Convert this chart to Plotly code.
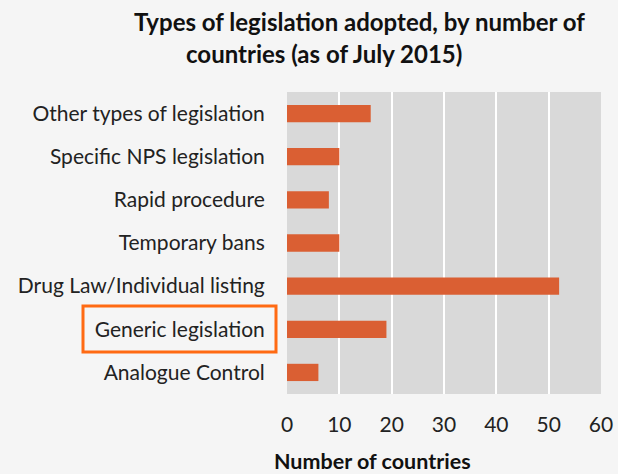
import plotly.graph_objects as go

categories = ["Analogue Control", "Generic legislation", "Drug Law/Individual listing",
              "Temporary bans", "Rapid procedure", "Specific NPS legislation",
              "Other types of legislation"]
values = [6, 19, 52, 10, 8, 10, 16]
x_ticks = [0, 10, 20, 30, 40, 50, 60]

title_line1 = "Types of legislation adopted, by number of"
title_line2 = "countries (as of July 2015)"
x_title = "Number of countries"

FONT = "Lato"
fig = go.Figure(go.Bar(
    x=values, y=categories, orientation="h",
    marker=dict(color="#DA5F33", line=dict(width=0)),
))

fig.update_layout(
    width=618, height=474, autosize=False,
    margin=dict(l=287, r=17, t=92, b=80),
    paper_bgcolor="#F5F5F5", plot_bgcolor="#D9D9D9",
    bargap=0.6, showlegend=False,
    font=dict(family=FONT, size=21, color="#222222"),
)
fig.update_xaxes(range=[0, 60], tickvals=x_ticks, showgrid=True, gridcolor="#FFFFFF",
                 gridwidth=2, zeroline=False, showline=False, automargin=False,
                 ticks="outside", ticklen=12, tickcolor="rgba(0,0,0,0)",
                 tickfont=dict(family=FONT, size=21, color="#222222"))
fig.update_yaxes(showgrid=False, zeroline=False, showline=False, automargin=False,
                 ticks="outside", ticklen=17, tickcolor="rgba(0,0,0,0)",
                 tickfont=dict(family=FONT, size=21, color="#222222"))

fig.add_annotation(text="<b>" + title_line1 + "</b>", xref="paper", yref="paper",
                   x=(359 - 287) / 314, y=1 + (92 - 22) / 302, showarrow=False,
                   font=dict(family=FONT, size=24, color="#111111"),
                   xanchor="center", yanchor="middle")
fig.add_annotation(text="<b>" + title_line2 + "</b>", xref="paper", yref="paper",
                   x=(324 - 287) / 314, y=1 + (92 - 53) / 302, showarrow=False,
                   font=dict(family=FONT, size=24, color="#111111"),
                   xanchor="center", yanchor="middle")
fig.add_annotation(text="<b>" + x_title + "</b>", xref="paper", yref="paper",
                   x=(372 - 287) / 314, y=-(461 - 394) / 302, showarrow=False,
                   font=dict(family=FONT, size=21.5, color="#111111"),
                   xanchor="center", yanchor="middle")

# highlight box around "Generic legislation"
fig.add_shape(type="rect", xref="paper", yref="paper",
              x0=(83 - 287) / 314, x1=(276 - 287) / 314,
              y0=(394 - 352) / 302, y1=(394 - 306) / 302,
              line=dict(color="#FF6A13", width=3), fillcolor="rgba(0,0,0,0)")

fig.write_html("out.html",
               config={"displayModeBar": False, "responsive": False},
               post_script="document.body.style.margin='0';document.body.style.overflow='hidden';")
